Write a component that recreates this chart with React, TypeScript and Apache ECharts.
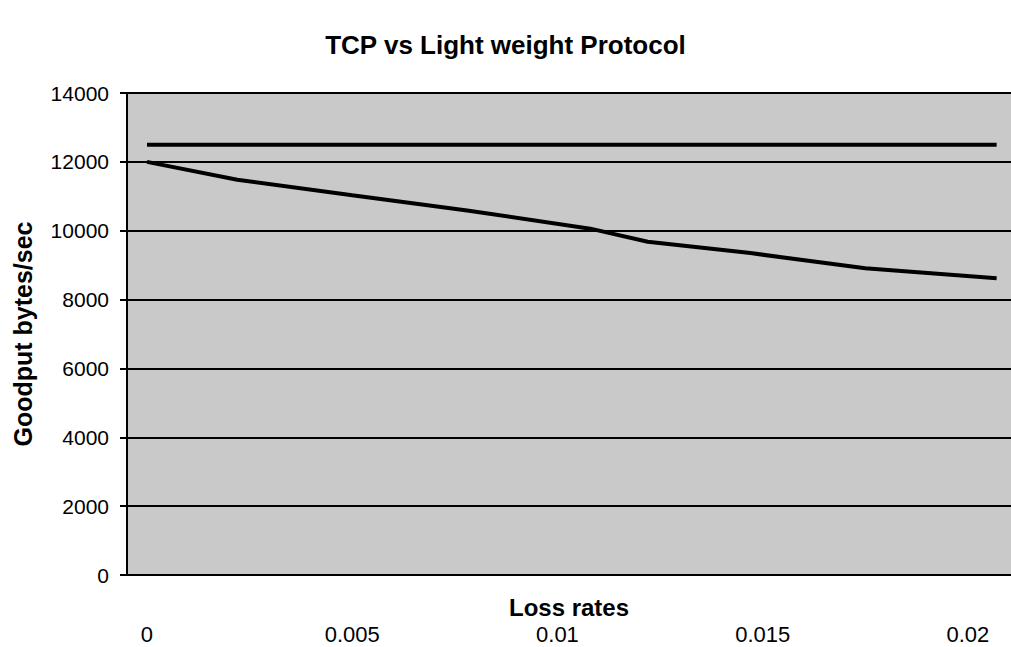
import React, { useEffect, useRef } from "react";
import * as echarts from "echarts";

const titleText = "TCP vs Light weight Protocol";
const xAxisName = "Loss rates";
const yAxisName = "Goodput bytes/sec";
const yTicks = [0, 2000, 4000, 6000, 8000, 10000, 12000, 14000];

// TCP goodput vs loss rate
const tcpLoss = [0, 0.0022, 0.005, 0.0078, 0.0108, 0.0122, 0.0147, 0.0175, 0.0207];
const tcpGoodput = [12000, 11480, 11030, 10590, 10060, 9680, 9350, 8910, 8620];

// Light weight protocol goodput (flat)
const lwLoss = [0, 0.0207];
const lwGoodput = [12500, 12500];

export default function App() {
  const ref = useRef<HTMLDivElement>(null);
  useEffect(() => {
    if (!ref.current) return;
    const chart = echarts.init(ref.current, null, { renderer: "svg" });
    const font = "'Liberation Sans', Arial, sans-serif";
    chart.setOption({
      animation: false,
      backgroundColor: "#ffffff",
      title: {
        text: titleText,
        left: "center",
        top: 27,
        textStyle: { fontFamily: font, fontSize: 26, fontWeight: "bold", color: "#000" },
      },
      grid: {
        left: 127,
        top: 93,
        width: 884,
        height: 482,
        show: true,
        backgroundColor: "#c9c9c9",
        borderWidth: 0,
        containLabel: false,
        outerBoundsMode: "none",
      },
      xAxis: {
        type: "value",
        min: -0.000487,
        max: 0.02105,
        name: xAxisName,
        nameLocation: "middle",
        nameGap: 20,
        nameMoveOverlap: false,
        nameTextStyle: { fontFamily: font, fontSize: 24, fontWeight: "bold", color: "#000" },
        axisLine: { show: true, onZero: false, lineStyle: { color: "#000", width: 2 } },
        axisTick: { show: false },
        splitLine: { show: false },
        axisLabel: {
          margin: 48,
          fontFamily: font,
          fontSize: 22,
          color: "#000",
          showMinLabel: false,
          showMaxLabel: false,
          formatter: (v: number) => {
            const k = v / 0.005;
            if (v < -1e-9 || Math.abs(k - Math.round(k)) > 1e-6) return "";
            return String(Math.round(v * 1000) / 1000);
          },
        },
      },
      yAxis: {
        type: "value",
        min: yTicks[0],
        max: yTicks[yTicks.length - 1],
        interval: 2000,
        name: yAxisName,
        nameLocation: "middle",
        nameGap: 92,
        nameRotate: 90,
        nameMoveOverlap: false,
        nameTextStyle: { fontFamily: font, fontSize: 25, fontWeight: "bold", color: "#000" },
        axisLine: { show: true, onZero: false, lineStyle: { color: "#000", width: 2 } },
        axisTick: { show: true, length: 7, lineStyle: { color: "#000", width: 2 } },
        splitLine: { show: true, lineStyle: { color: "#000", width: 2 } },
        axisLabel: {
          margin: 18,
          fontFamily: font,
          fontSize: 21,
          color: "#000",
          formatter: (v: number) => String(v),
        },
      },
      series: [
        {
          name: "Light weight Protocol",
          type: "line",
          data: lwLoss.map((x, i) => [x, lwGoodput[i]]),
          showSymbol: false,
          lineStyle: { color: "#000", width: 4 },
        },
        {
          name: "TCP",
          type: "line",
          data: tcpLoss.map((x, i) => [x, tcpGoodput[i]]),
          showSymbol: false,
          lineStyle: { color: "#000", width: 4 },
        },
      ],
    });
    return () => chart.dispose();
  }, []);
  return (
    <div
      ref={ref}
      style={{ position: "absolute", left: 0, top: 0, width: 1011, height: 647 }}
    />
  );
}
